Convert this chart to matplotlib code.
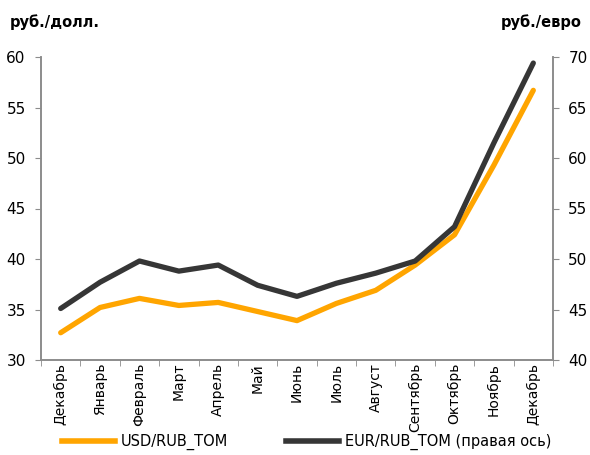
import matplotlib
matplotlib.use("Agg")
import matplotlib.pyplot as plt
from matplotlib.lines import Line2D
import numpy as np

months = ["Декабрь", "Январь", "Февраль", "Март", "Апрель", "Май", "Июнь",
          "Июль", "Август", "Сентябрь", "Октябрь", "Ноябрь", "Декабрь"]
usd = [32.7, 35.2, 36.1, 35.4, 35.7, 34.8, 33.9, 35.6, 36.9, 39.4, 42.4, 49.3, 56.7]
eur = [45.1, 47.7, 49.8, 48.8, 49.4, 47.4, 46.3, 47.6, 48.6, 49.8, 53.2, 61.5, 69.4]

ORANGE = "#FFA500"
DARK = "#363636"
GRAY = "#8c8c8c"

plt.rcParams["font.family"] = ["DejaVu Sans"]
fig = plt.figure(figsize=(5.9, 4.55), dpi=100)
ax = fig.add_axes([41/590, 1 - 360/455, (553-41)/590, (360-57)/455])
ax2 = ax.twinx()

x = np.arange(len(months))
ax.plot(x, usd, color=ORANGE, lw=3.8, solid_capstyle="round", zorder=3)
ax2.plot(x, eur, color=DARK, lw=3.8, solid_capstyle="round", zorder=3)

ax.set_xlim(-0.5, len(months) - 0.5)
ax.set_ylim(30, 60)
ax2.set_ylim(40, 70)
ax.set_yticks(np.arange(30, 61, 5))
ax2.set_yticks(np.arange(40, 71, 5))
ax.set_xticks(x)
ax.set_xticklabels(months, rotation=90, fontsize=10)
ax.set_xticks(np.arange(-0.5, len(months), 1), minor=True)
ax.tick_params(axis="x", which="major", length=0, pad=2)
ax.tick_params(axis="x", which="minor", length=4, color=GRAY, direction="out")
ax.tick_params(axis="y", length=4, color=GRAY, labelsize=11, pad=7)
ax2.tick_params(axis="y", length=4, color=GRAY, labelsize=11, pad=7)

for a in (ax, ax2):
    a.spines["top"].set_visible(False)
    for s in ("left", "right", "bottom"):
        a.spines[s].set_color(GRAY)
        a.spines[s].set_linewidth(1.2)

fig.text(10/590, 1 - 22/455, "руб./долл.", fontsize=10.5, fontweight="bold", va="center", ha="left")
fig.text(582/590, 1 - 22/455, "руб./евро", fontsize=10.5, fontweight="bold", va="center", ha="right")

handles = [Line2D([], [], color=ORANGE, lw=4),
           Line2D([], [], color=DARK, lw=4)]
fig.legend(handles, ["USD/RUB_TOM", "EUR/RUB_TOM (правая ось)"],
           loc="center", bbox_to_anchor=(0.52, 1 - 442/455), ncol=2, frameon=False,
           fontsize=10.5, handlelength=3.6, handletextpad=0.4, columnspacing=4.0)

fig.savefig("out.png", dpi=100)
